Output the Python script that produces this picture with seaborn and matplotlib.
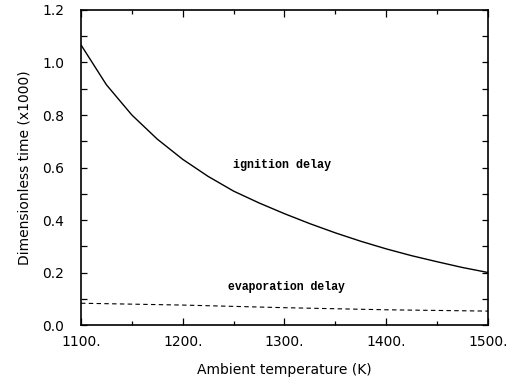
import matplotlib
matplotlib.use("Agg")
import matplotlib.pyplot as plt
from matplotlib.ticker import MultipleLocator, FormatStrFormatter, FuncFormatter
import seaborn as sns
import pandas as pd

# Ambient temperature (K)
temp_ign = [1100, 1125, 1150, 1175, 1200, 1225, 1250, 1275, 1300,
            1325, 1350, 1375, 1400, 1425, 1450, 1475, 1500]
# Dimensionless ignition delay (x1000)
ignition = [1.067, 0.915, 0.800, 0.708, 0.631, 0.566, 0.510, 0.465, 0.424,
            0.386, 0.351, 0.319, 0.290, 0.264, 0.241, 0.219, 0.200]

temp_evap = [1100, 1200, 1300, 1400, 1500]
# Dimensionless evaporation delay (x1000)
evaporation = [0.083, 0.076, 0.066, 0.058, 0.053]

x_ticks = [1100, 1200, 1300, 1400, 1500]
y_ticks = [0.0, 0.2, 0.4, 0.6, 0.8, 1.0, 1.2]

sns.set_theme(style="ticks")
plt.rcParams["font.family"] = ["DejaVu Sans"]

ign_df = pd.DataFrame({"T": temp_ign, "t": ignition})
evap_df = pd.DataFrame({"T": temp_evap, "t": evaporation})

fig = plt.figure(figsize=(5.11, 3.80), dpi=100)
ax = fig.add_axes([0.1585, 0.1447, 0.7965, 0.829])

sns.lineplot(data=ign_df, x="T", y="t", ax=ax, color="black", linewidth=1.0)
sns.lineplot(data=evap_df, x="T", y="t", ax=ax, color="black", linewidth=0.8,
             linestyle=(0, (4, 3)))

ax.set_xlim(1100, 1500)
ax.set_ylim(0.0, 1.2)
ax.set_xticks(x_ticks)
ax.set_yticks(y_ticks)
ax.xaxis.set_minor_locator(MultipleLocator(50))
ax.yaxis.set_minor_locator(MultipleLocator(0.1))
ax.xaxis.set_major_formatter(FuncFormatter(lambda v, p: f"{v:.0f}."))
ax.yaxis.set_major_formatter(FormatStrFormatter("%.1f"))

for s in ax.spines.values():
    s.set_linewidth(1.2)
    s.set_color("black")

ax.tick_params(which="both", direction="in", top=True, right=True,
               color="black", width=0.9, labelsize=10, labelcolor="black")
ax.tick_params(axis="x", which="major", length=5, pad=7)
ax.tick_params(axis="x", which="minor", length=3)
ax.tick_params(axis="y", which="major", length=4.5, pad=12)
ax.tick_params(axis="y", which="minor", length=4.5)

ax.set_xlabel("Ambient temperature (K)", fontsize=10, labelpad=10, color="black")
ax.set_ylabel("Dimensionless time (x1000)", fontsize=10, labelpad=8, color="black")

ax.text(1298, 0.61, "ignition delay", family="Liberation Mono", fontsize=8.5,
        fontweight="bold", ha="center", va="center", color="black")
ax.text(1302, 0.144, "evaporation delay", family="Liberation Mono", fontsize=8.3,
        fontweight="bold", ha="center", va="center", color="black")

fig.savefig("out.png", dpi=100, facecolor="white")
